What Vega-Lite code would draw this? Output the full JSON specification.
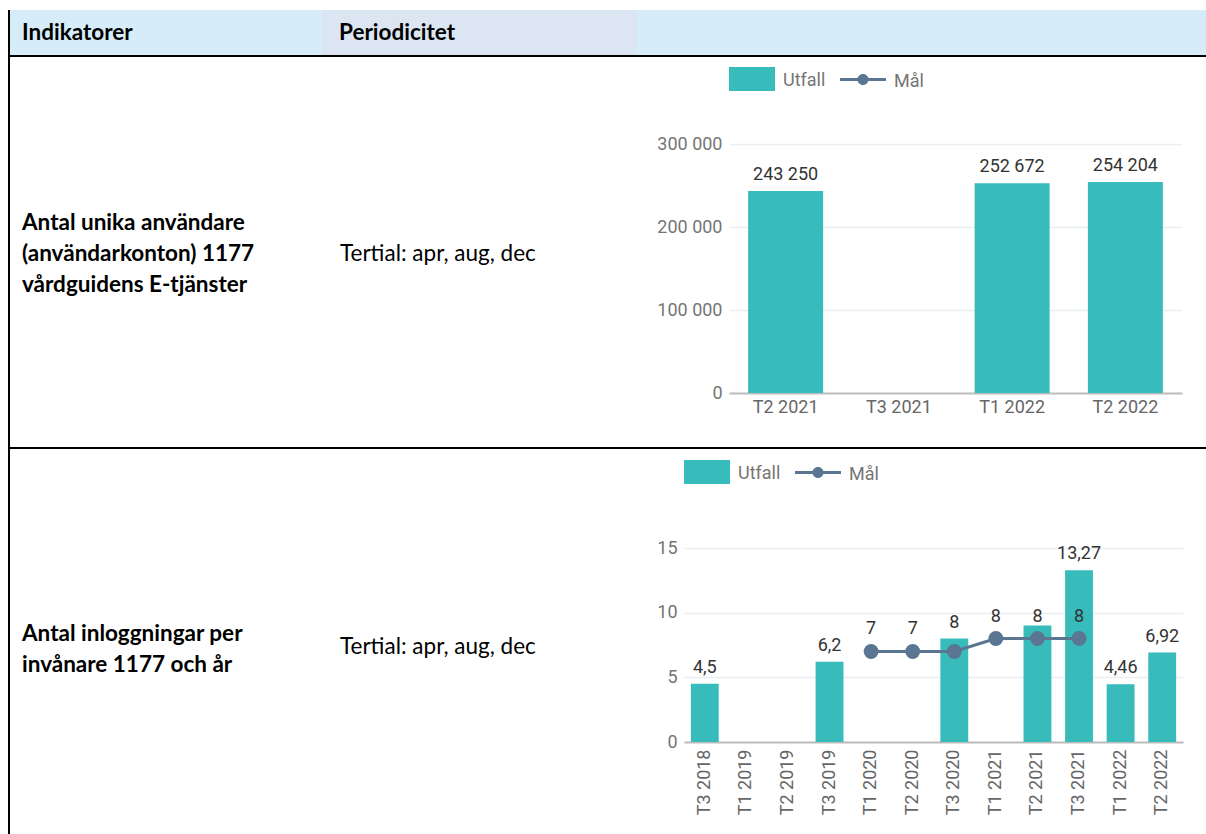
{
  "$schema": "https://vega.github.io/schema/vega-lite/v6.json",
  "padding": {"left": 8, "top": 10, "right": 0, "bottom": 0},
  "background": "white",
  "config": {
    "view": {"stroke": null},
    "locale": {"number": {"decimal": ",", "thousands": " ", "grouping": [3], "currency": ["", " kr"]}},
    "font": "Roboto"
  },
  "spacing": 0,
  "bounds": "full",
  "resolve": {"scale": {"color": "independent"}, "legend": {"color": "independent"}},
  "vconcat": [
    {
      "columns": 5,
      "bounds": "flush",
      "spacing": 0,
      "resolve": {"scale": {"color": "independent"}, "legend": {"color": "independent"}},
      "concat": [
        {"width": 2, "height": 45, "view": {"fill": "#000000", "stroke": null}, "data": {"values": []}, "mark": {"type": "text", "text": ""}, "encoding": {}},
        {"width": 312, "height": 45, "view": {"fill": "#D6ECF8", "stroke": null}, "data": {"values": [{"t": "Indikatorer"}]}, "mark": {"type": "text", "align": "left", "baseline": "middle", "font": "Lato", "fontSize": 22.5, "fontWeight": "bold", "color": "#000000"}, "encoding": {"text": {"field": "t"}, "x": {"value": 12}}},
        {"width": 315, "height": 45, "view": {"fill": "#DCE6F2", "stroke": null}, "data": {"values": [{"t": "Periodicitet"}]}, "mark": {"type": "text", "align": "left", "baseline": "middle", "font": "Lato", "fontSize": 22.5, "fontWeight": "bold", "color": "#000000"}, "encoding": {"text": {"field": "t"}, "x": {"value": 17}}},
        {"width": 92, "height": 45, "view": {"fill": "#D6ECF8", "stroke": null}, "data": {"values": []}, "mark": {"type": "text", "text": ""}, "encoding": {}},
        {"width": 477, "height": 45, "view": {"fill": "#D6ECF8", "stroke": null}, "data": {"values": []}, "mark": {"type": "text", "text": ""}, "encoding": {}},

        {"width": 2, "height": 2, "view": {"fill": "#000000", "stroke": null}, "data": {"values": []}, "mark": {"type": "text", "text": ""}, "encoding": {}},
        {"width": 312, "height": 2, "view": {"fill": "#000000", "stroke": null}, "data": {"values": []}, "mark": {"type": "text", "text": ""}, "encoding": {}},
        {"width": 315, "height": 2, "view": {"fill": "#000000", "stroke": null}, "data": {"values": []}, "mark": {"type": "text", "text": ""}, "encoding": {}},
        {"width": 92, "height": 2, "view": {"fill": "#000000", "stroke": null}, "data": {"values": []}, "mark": {"type": "text", "text": ""}, "encoding": {}},
        {"width": 477, "height": 2, "view": {"fill": "#000000", "stroke": null}, "data": {"values": []}, "mark": {"type": "text", "text": ""}, "encoding": {}},

        {"width": 2, "height": 87, "view": {"fill": "#000000", "stroke": null}, "data": {"values": []}, "mark": {"type": "text", "text": ""}, "encoding": {}},
        {"width": 312, "height": 87, "data": {"values": []}, "mark": {"type": "text", "text": ""}, "encoding": {}},
        {"width": 315, "height": 87, "data": {"values": []}, "mark": {"type": "text", "text": ""}, "encoding": {}},
        {"width": 92, "height": 87, "data": {"values": []}, "mark": {"type": "text", "text": ""}, "encoding": {}},
        {"width": 477, "height": 87, "data": {"values": []}, "mark": {"type": "text", "text": ""}, "encoding": {}},

        {"width": 2, "height": 249, "view": {"fill": "#000000", "stroke": null}, "data": {"values": []}, "mark": {"type": "text", "text": ""}, "encoding": {}},
        {"width": 312, "height": 249, "data": {"values": [{"t": ["Antal unika användare", "(användarkonton) 1177", "vårdguidens E-tjänster"]}]}, "mark": {"type": "text", "align": "left", "baseline": "middle", "font": "Lato", "fontSize": 22.5, "fontWeight": "bold", "lineHeight": 31, "color": "#000000", "dy": -45.5}, "encoding": {"text": {"field": "t"}, "x": {"value": 12}}},
        {"width": 315, "height": 249, "data": {"values": [{"t": "Tertial: apr, aug, dec"}]}, "mark": {"type": "text", "align": "left", "baseline": "middle", "font": "Lato", "fontSize": 22.5, "color": "#000000", "dy": -14.5}, "encoding": {"text": {"field": "t"}, "x": {"value": 18}}},
        {"width": 92, "height": 249, "data": {"values": []}, "mark": {"type": "text", "text": ""}, "encoding": {}},
        {
          "width": 453,
          "height": 249,
          "data": {"values": [
            {"period": "T2 2021", "utfall": 243250},
            {"period": "T3 2021", "utfall": null},
            {"period": "T1 2022", "utfall": 252672},
            {"period": "T2 2022", "utfall": 254204}
          ]},
          "encoding": {
            "x": {"field": "period", "type": "nominal", "sort": null,
              "scale": {"domain": ["T2 2021", "T3 2021", "T1 2022", "T2 2022"], "paddingInner": 0.338, "paddingOuter": 0.169},
              "axis": {"title": null, "labelAngle": 0, "ticks": false, "domainColor": "#BDBDBD", "domainWidth": 2, "labelPadding": 5, "labelFont": "Roboto", "labelFontSize": 18, "labelColor": "#666666", "grid": false}}
          },
          "layer": [
            {
              "mark": {"type": "bar", "color": "#37BBBB"},
              "encoding": {
                "y": {"field": "utfall", "type": "quantitative", "scale": {"domain": [0, 300000], "nice": false},
                  "axis": {"title": null, "values": [0, 100000, 200000, 300000], "format": ",d", "domain": false, "ticks": false, "grid": true, "gridColor": "#E9EEF1", "gridWidth": 1.5, "labelPadding": 7, "labelFont": "Roboto", "labelFontSize": 18, "labelColor": "#757575"}},
                "color": {"datum": "Utfall", "type": "nominal",
                  "scale": {"domain": ["Utfall", "Mål"], "range": ["#37BBBB", "#5A7692"]},
                  "legend": {"title": null, "orient": "none", "legendX": 0, "legendY": -88, "direction": "horizontal", "padding": 0,
                    "symbolSize": 2116, "symbolStrokeWidth": 0, "labelOffset": 8, "columnPadding": 14,
                    "labelFont": "Roboto", "labelFontSize": 18, "labelColor": "#757575",
                    "encode": {
                      "labels": {"update": {"dy": {"value": 2}}},
                      "symbols": {"update": {
                      "shape": [{"test": "datum.value === 'Utfall'", "value": "M-1,-0.52H1V0.52H-1Z"}, {"value": "M-1,-0.06H1V0.06H-1Z M0.24,0A0.24,0.24 0 1,1 -0.24,0A0.24,0.24 0 1,1 0.24,0Z"}],
                      "fill": [{"test": "datum.value === 'Utfall'", "value": "#37BBBB"}, {"value": "#5A7692"}],
                      "stroke": {"value": "transparent"},
                      "opacity": {"value": 1},
                      "fillOpacity": {"value": 1}
                    }}}}}
              }
            },
            {
              "transform": [{"filter": "datum.utfall != null"}],
              "mark": {"type": "text", "baseline": "middle", "dy": -16, "font": "Roboto", "fontSize": 18, "color": "#333333"},
              "encoding": {
                "y": {"field": "utfall", "type": "quantitative"},
                "text": {"field": "utfall", "type": "quantitative", "format": ",d"}
              }
            }
          ]
        },

        {"width": 2, "height": 54, "view": {"fill": "#000000", "stroke": null}, "data": {"values": []}, "mark": {"type": "text", "text": ""}, "encoding": {}},
        {"width": 312, "height": 54, "data": {"values": []}, "mark": {"type": "text", "text": ""}, "encoding": {}},
        {"width": 315, "height": 54, "data": {"values": []}, "mark": {"type": "text", "text": ""}, "encoding": {}},
        {"width": 92, "height": 54, "data": {"values": []}, "mark": {"type": "text", "text": ""}, "encoding": {}},
        {"width": 477, "height": 54, "data": {"values": []}, "mark": {"type": "text", "text": ""}, "encoding": {}},

        {"width": 2, "height": 2, "view": {"fill": "#000000", "stroke": null}, "data": {"values": []}, "mark": {"type": "text", "text": ""}, "encoding": {}},
        {"width": 312, "height": 2, "view": {"fill": "#000000", "stroke": null}, "data": {"values": []}, "mark": {"type": "text", "text": ""}, "encoding": {}},
        {"width": 315, "height": 2, "view": {"fill": "#000000", "stroke": null}, "data": {"values": []}, "mark": {"type": "text", "text": ""}, "encoding": {}},
        {"width": 92, "height": 2, "view": {"fill": "#000000", "stroke": null}, "data": {"values": []}, "mark": {"type": "text", "text": ""}, "encoding": {}},
        {"width": 477, "height": 2, "view": {"fill": "#000000", "stroke": null}, "data": {"values": []}, "mark": {"type": "text", "text": ""}, "encoding": {}}
      ]
    },
    {
      "columns": 5,
      "bounds": "flush",
      "spacing": 0,
      "resolve": {"scale": {"color": "independent"}, "legend": {"color": "independent"}},
      "concat": [
        {"width": 2, "height": 99, "view": {"fill": "#000000", "stroke": null}, "data": {"values": []}, "mark": {"type": "text", "text": ""}, "encoding": {}},
        {"width": 312, "height": 99, "data": {"values": []}, "mark": {"type": "text", "text": ""}, "encoding": {}},
        {"width": 315, "height": 99, "data": {"values": []}, "mark": {"type": "text", "text": ""}, "encoding": {}},
        {"width": 47, "height": 99, "data": {"values": []}, "mark": {"type": "text", "text": ""}, "encoding": {}},
        {"width": 522, "height": 99, "data": {"values": []}, "mark": {"type": "text", "text": ""}, "encoding": {}},

        {"width": 2, "height": 194, "view": {"fill": "#000000", "stroke": null}, "data": {"values": []}, "mark": {"type": "text", "text": ""}, "encoding": {}},
        {"width": 312, "height": 194, "data": {"values": [{"t": ["Antal inloggningar per", "invånare 1177 och år"]}]}, "mark": {"type": "text", "align": "left", "baseline": "middle", "font": "Lato", "fontSize": 22.5, "fontWeight": "bold", "lineHeight": 31, "color": "#000000", "dy": -11}, "encoding": {"text": {"field": "t"}, "x": {"value": 12}}},
        {"width": 315, "height": 194, "data": {"values": [{"t": "Tertial: apr, aug, dec"}]}, "mark": {"type": "text", "align": "left", "baseline": "middle", "font": "Lato", "fontSize": 22.5, "color": "#000000", "dy": 2}, "encoding": {"text": {"field": "t"}, "x": {"value": 18}}},
        {"width": 47, "height": 194, "data": {"values": []}, "mark": {"type": "text", "text": ""}, "encoding": {}},
        {
          "width": 499,
          "height": 194,
          "data": {"values": [
            {"period": "T3 2018", "utfall": 4.5, "mal": null},
            {"period": "T1 2019", "utfall": null, "mal": null},
            {"period": "T2 2019", "utfall": null, "mal": null},
            {"period": "T3 2019", "utfall": 6.2, "mal": null},
            {"period": "T1 2020", "utfall": null, "mal": 7},
            {"period": "T2 2020", "utfall": null, "mal": 7},
            {"period": "T3 2020", "utfall": 8, "mal": 7},
            {"period": "T1 2021", "utfall": null, "mal": 8},
            {"period": "T2 2021", "utfall": 9, "mal": 8},
            {"period": "T3 2021", "utfall": 13.27, "mal": 8},
            {"period": "T1 2022", "utfall": 4.46, "mal": null},
            {"period": "T2 2022", "utfall": 6.92, "mal": null}
          ]},
          "encoding": {
            "x": {"field": "period", "type": "nominal", "sort": null,
              "scale": {"domain": ["T3 2018", "T1 2019", "T2 2019", "T3 2019", "T1 2020", "T2 2020", "T3 2020", "T1 2021", "T2 2021", "T3 2021", "T1 2022", "T2 2022"], "paddingInner": 0.33, "paddingOuter": 0.165},
              "axis": {"title": null, "labelAngle": -90, "ticks": false, "domainColor": "#BDBDBD", "domainWidth": 2, "labelPadding": 7, "labelFont": "Roboto", "labelFontSize": 18, "labelColor": "#666666", "grid": false}}
          },
          "layer": [
            {
              "mark": {"type": "bar", "color": "#37BBBB"},
              "encoding": {
                "y": {"field": "utfall", "type": "quantitative", "scale": {"domain": [0, 15], "nice": false},
                  "axis": {"title": null, "values": [0, 5, 10, 15], "format": "d", "domain": false, "ticks": false, "grid": true, "gridColor": "#E9EEF1", "gridWidth": 1.5, "labelPadding": 7, "labelFont": "Roboto", "labelFontSize": 18, "labelColor": "#757575"}},
                "color": {"datum": "Utfall", "type": "nominal",
                  "scale": {"domain": ["Utfall", "Mål"], "range": ["#37BBBB", "#5A7692"]},
                  "legend": {"title": null, "orient": "none", "legendX": 0, "legendY": -99, "direction": "horizontal", "padding": 0,
                    "symbolSize": 2116, "symbolStrokeWidth": 0, "labelOffset": 8, "columnPadding": 14,
                    "labelFont": "Roboto", "labelFontSize": 18, "labelColor": "#757575",
                    "encode": {
                      "labels": {"update": {"dy": {"value": 2}}},
                      "symbols": {"update": {
                      "shape": [{"test": "datum.value === 'Utfall'", "value": "M-1,-0.52H1V0.52H-1Z"}, {"value": "M-1,-0.06H1V0.06H-1Z M0.24,0A0.24,0.24 0 1,1 -0.24,0A0.24,0.24 0 1,1 0.24,0Z"}],
                      "fill": [{"test": "datum.value === 'Utfall'", "value": "#37BBBB"}, {"value": "#5A7692"}],
                      "stroke": {"value": "transparent"},
                      "opacity": {"value": 1},
                      "fillOpacity": {"value": 1}
                    }}}}}
              }
            },
            {
              "mark": {"type": "line", "strokeWidth": 3, "color": "#5A7692", "point": {"filled": true, "size": 220, "color": "#5A7692", "opacity": 1}},
              "encoding": {
                "y": {"field": "mal", "type": "quantitative"},
                "color": {"datum": "Mål", "type": "nominal"}
              }
            },
            {
              "transform": [{"filter": "datum.utfall != null && datum.period != 'T2 2021'"}],
              "mark": {"type": "text", "baseline": "middle", "dy": -16, "font": "Roboto", "fontSize": 18, "color": "#333333"},
              "encoding": {
                "y": {"field": "utfall", "type": "quantitative"},
                "text": {"field": "utfall", "type": "quantitative", "format": "~r"}
              }
            },
            {
              "transform": [{"filter": "datum.mal != null && datum.period != 'T3 2020'"}],
              "mark": {"type": "text", "baseline": "middle", "dy": -22, "font": "Roboto", "fontSize": 18, "color": "#333333"},
              "encoding": {
                "y": {"field": "mal", "type": "quantitative"},
                "text": {"field": "mal", "type": "quantitative", "format": "~r"}
              }
            }
          ]
        },

        {"width": 2, "height": 92, "view": {"fill": "#000000", "stroke": null}, "data": {"values": []}, "mark": {"type": "text", "text": ""}, "encoding": {}},
        {"width": 312, "height": 92, "data": {"values": []}, "mark": {"type": "text", "text": ""}, "encoding": {}},
        {"width": 315, "height": 92, "data": {"values": []}, "mark": {"type": "text", "text": ""}, "encoding": {}},
        {"width": 47, "height": 92, "data": {"values": []}, "mark": {"type": "text", "text": ""}, "encoding": {}},
        {"width": 522, "height": 92, "data": {"values": []}, "mark": {"type": "text", "text": ""}, "encoding": {}}
      ]
    }
  ]
}
